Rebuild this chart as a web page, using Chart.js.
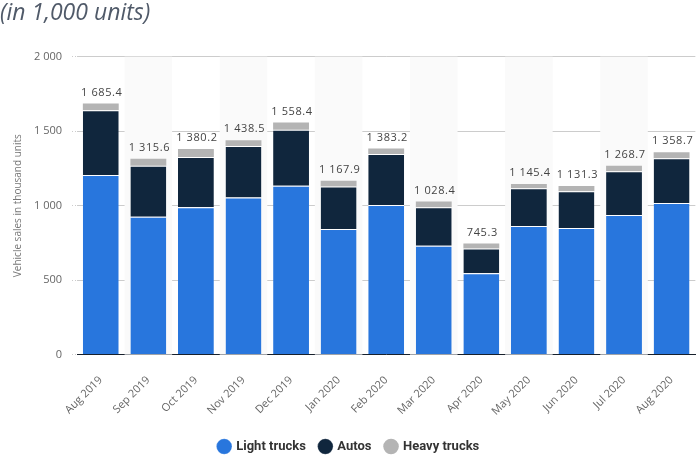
<!DOCTYPE html>
<html>
<head>
<meta charset="utf-8">
<script src="https://cdn.jsdelivr.net/npm/chart.js@4/dist/chart.umd.min.js"></script>
<style>
  html, body { margin: 0; padding: 0; background: #ffffff; }
  #wrap { position: relative; width: 700px; height: 456px; }
</style>
</head>
<body>
<div id="wrap"><canvas id="c"></canvas></div>
<script>
const categories = ['Aug 2019', 'Sep 2019', 'Oct 2019', 'Nov 2019', 'Dec 2019', 'Jan 2020', 'Feb 2020', 'Mar 2020', 'Apr 2020', 'May 2020', 'Jun 2020', 'Jul 2020', 'Aug 2020'];
const lightTrucks = [1205, 925, 990, 1054, 1133, 843, 1005, 730, 546, 863, 850, 937, 1018];
const autos = [435, 343, 337, 346, 377, 285, 341, 259, 166, 254, 246, 294, 301];
const heavyTrucks = [45.4, 47.6, 53.2, 38.5, 48.4, 39.9, 37.2, 39.4, 33.3, 28.4, 35.3, 37.7, 39.7];
const totals = [1685.4, 1315.6, 1380.2, 1438.5, 1558.4, 1167.9, 1383.2, 1028.4, 745.3, 1145.4, 1131.3, 1268.7, 1358.7];
const yTicks = [0, 500, 1000, 1500, 2000];

function fmt(v) {
  const parts = String(v).split('.');
  parts[0] = parts[0].replace(/\B(?=(\d{3})+(?!\d))/g, ' ');
  return parts.join('.');
}

const bandPlugin = {
  id: 'bands',
  beforeDatasetsDraw(chart) {
    const {ctx, chartArea, scales} = chart;
    const x = scales.x;
    const w = (chartArea.right - chartArea.left) / categories.length;
    ctx.save();
    ctx.fillStyle = '#fafafa';
    categories.forEach((c, i) => {
      if (i % 2 === 1) {
        const cx = x.getPixelForValue(i);
        ctx.fillRect(cx - w / 2, chartArea.top, w, chartArea.bottom - chartArea.top);
      }
    });
    ctx.restore();
  }
};

const totalPlugin = {
  id: 'totals',
  afterDatasetsDraw(chart) {
    const {ctx} = chart;
    const meta = chart.getDatasetMeta(2);
    ctx.save();
    ctx.font = '11px "Open Sans"';
    ctx.fillStyle = '#444444';
    ctx.textAlign = 'center';
    ctx.textBaseline = 'middle';
    try { ctx.letterSpacing = '0.6px'; } catch (e) {}
    meta.data.forEach((bar, i) => {
      ctx.fillText(fmt(totals[i]), bar.x + 1, bar.y - 11);
    });
    ctx.restore();
  }
};

new Chart(document.getElementById('c'), {
  type: 'bar',
  data: {
    labels: categories,
    datasets: [
      { label: 'Light trucks', data: lightTrucks, backgroundColor: '#2876dd', borderColor: '#ffffff', borderWidth: {top: 1, left: 0, right: 0, bottom: 0}, borderSkipped: false },
      { label: 'Autos', data: autos, backgroundColor: '#10263d', borderColor: '#ffffff', borderWidth: {top: 1, left: 0, right: 0, bottom: 0}, borderSkipped: false },
      { label: 'Heavy trucks', data: heavyTrucks, backgroundColor: '#b4b4b4', borderWidth: 0 }
    ]
  },
  options: {
    responsive: true,
    maintainAspectRatio: false,
    animation: false,
    layout: { padding: { left: 0, right: 2, top: 0, bottom: -7 } },
    datasets: { bar: { categoryPercentage: 1.0, barPercentage: 0.754 } },
    plugins: {
      title: {
        display: true,
        text: '(in 1,000 units)',
        align: 'start',
        color: '#505a69',
        font: { family: '"Open Sans"', size: 23, style: 'italic', weight: 'normal', lineHeight: 1.2 },
        padding: { top: 0, bottom: 29.1 }
      },
      legend: {
        position: 'bottom',
        labels: {
          usePointStyle: true,
          pointStyle: 'circle',
          boxWidth: 11,
          boxHeight: 11,
          padding: 14,
          color: '#333333',
          font: { family: 'Roboto', size: 13, weight: 'bold' }
        }
      },
      tooltip: { enabled: false }
    },
    scales: {
      x: {
        stacked: true,
        z: 1,
        grid: { display: false, drawTicks: false },
        border: { display: true, color: '#17202c', width: 1 },
        ticks: {
          color: '#666666',
          font: { family: '"Open Sans"', size: 11 },
          minRotation: 45,
          maxRotation: 45,
          padding: 19,
          autoSkip: false
        },
        afterFit(scale) { scale.height = 71.4; }
      },
      y: {
        stacked: true,
        min: 0,
        max: 2000,
        afterBuildTicks(scale) { scale.ticks = yTicks.map(v => ({ value: v })); },
        grid: {
          color: '#cccccc',
          lineWidth: 1,
          borderDash: [1, 2],
          drawTicks: true,
          tickLength: 5,
          tickColor: '#cccccc',
          tickBorderDash: [1, 2]
        },
        border: { display: false },
        ticks: {
          color: '#666666',
          font: { family: '"Open Sans"', size: 11 },
          padding: 10,
          callback: (v) => fmt(v)
        },
        title: {
          display: true,
          text: 'Vehicle sales in thousand units',
          color: '#777777',
          font: { family: '"Open Sans"', size: 10 },
          padding: { top: 12, bottom: 0 }
        },
        afterFit(scale) { scale.width = 77; }
      }
    }
  },
  plugins: [bandPlugin, totalPlugin]
});
</script>
</body>
</html>
